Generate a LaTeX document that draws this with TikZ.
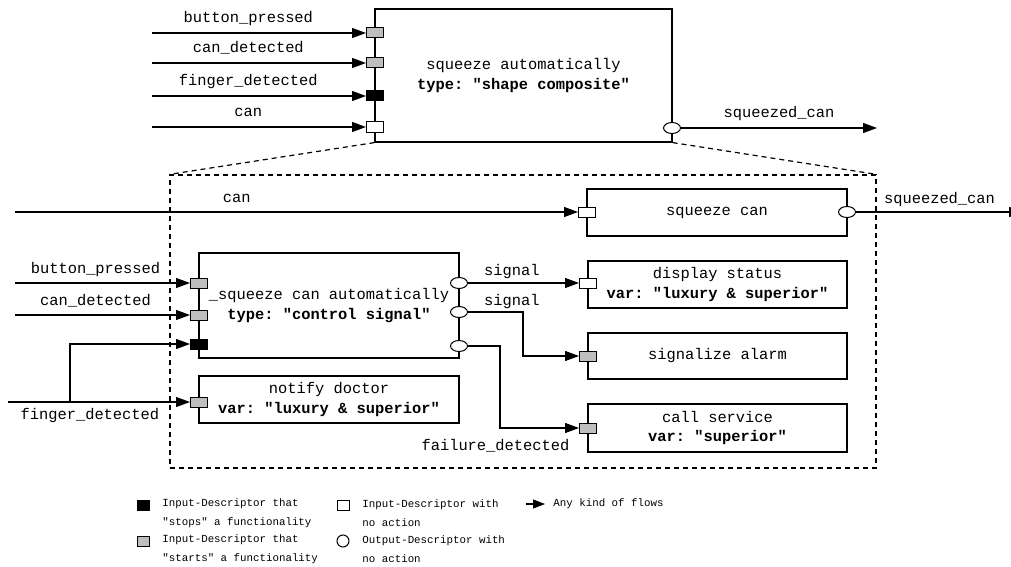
\documentclass[tikz,border=0pt]{standalone}
\usepackage{fontspec}
\setmonofont{Liberation Mono}
\usepackage{tikz}
\usetikzlibrary{arrows.meta,positioning,shapes.geometric}
\definecolor{portgrey}{HTML}{BEBEBE}
\tikzset{func/.style={draw,line width=0.6pt,align=center,
  font=\ttfamily\fontsize{7.7}{9.8}\selectfont,inner sep=0pt},
  port/.style={draw,line width=0.5pt,minimum width=8.5pt,minimum height=5pt,inner sep=0pt},
  startport/.style={port,fill=portgrey},
  stopport/.style={port,fill=black},
  noport/.style={port,fill=white},
  outport/.style={ellipse,draw,line width=0.5pt,fill=white,
  minimum width=8.5pt,minimum height=5.5pt,inner sep=0pt},
  flow/.style={-{Triangle[length=7pt,width=5pt]},line width=0.6pt},
  lbl/.style={font=\ttfamily\fontsize{7.7}{9.8}\selectfont,inner sep=0pt,anchor=base},
  zoomline/.style={dash pattern=on 2.5pt off 2pt,line width=0.6pt},
  legend/.style={font=\ttfamily\fontsize{5.4}{9.3}\selectfont,align=left,anchor=west,inner sep=0pt}}

\begin{document}
\begin{tikzpicture}[x=0.5pt,y=-0.5pt]
\useasboundingbox (0,0) rectangle (1011,567);
% composite function
\node[func,minimum width=148.5pt,minimum height=66.5pt] (top) at (523.5,75.5)
{squeeze automatically\\\textbf{type: "shape composite"}};
\node[startport] (top-bp) at (375,33) {};
\node[startport] (top-cd) at (375,63) {};
\node[stopport] (top-fd) at (375,96) {};
\node[noport] (top-can) at (375,127) {};
\node[outport] (top-out) at (672,128) {};
\coordinate (top-bp-src) at (152,33);
\coordinate (top-cd-src) at (152,63);
\coordinate (top-fd-src) at (152,96);
\coordinate (top-can-src) at (152,127);
\coordinate (top-out-dst) at (877,128);
\draw[flow] (top-bp-src) -- node[lbl,pos=0.45,yshift=5pt]{button\_pressed} (top-bp);
\draw[flow] (top-cd-src) -- node[lbl,pos=0.45,yshift=5pt]{can\_detected} (top-cd);
\draw[flow] (top-fd-src) -- node[lbl,pos=0.45,yshift=5pt]{finger\_detected} (top-fd);
\draw[flow] (top-can-src) -- node[lbl,pos=0.45,yshift=5pt]{can} (top-can);
\draw[flow] (top-out) -- node[lbl,pos=0.5,yshift=5pt]{squeezed\_can} (top-out-dst);

% refinement
\node[draw,zoomline,minimum width=353pt,minimum height=146.5pt,inner sep=0pt] (zoom) at (523,321.5) {};
\draw[zoomline] (top.south west) -- (zoom.north west);
\draw[zoomline] (top.south east) -- (zoom.north east);

\node[func,minimum width=130pt,minimum height=23.5pt] (sqcan) at (717,212.5) {squeeze can};
\node[func,minimum width=130pt,minimum height=52.5pt] (sqauto) at (329,305.5)
{\_squeeze can automatically\\\textbf{type: "control signal"}};
\node[func,minimum width=130pt,minimum height=23.5pt] (notify) at (329,399.5)
{notify doctor\\\textbf{var: "luxury \& superior"}};
\node[func,minimum width=129.5pt,minimum height=23.5pt] (display) at (717.5,284.5)
{display status\\\textbf{var: "luxury \& superior"}};
\node[func,minimum width=129.5pt,minimum height=23pt] (alarm) at (717.5,356) {signalize alarm};
\node[func,minimum width=129.5pt,minimum height=24pt] (service) at (717.5,428)
{call service\\\textbf{var: "superior"}};

\node[noport] (sqcan-in) at (587,212) {};
\node[outport] (sqcan-out) at (847,212) {};
\node[startport] (au-bp) at (199,283) {};
\node[startport] (au-cd) at (199,315) {};
\node[stopport] (au-fd) at (199,344) {};
\node[outport] (au-o1) at (459,283) {};
\node[outport] (au-o2) at (459,312) {};
\node[outport] (au-o3) at (459,346) {};
\node[startport] (nd-in) at (199,402) {};
\node[noport] (ds-in) at (588,283) {};
\node[startport] (sa-in) at (588,356) {};
\node[startport] (cs-in) at (588,428) {};

\coordinate (can-src) at (15,212);
\coordinate (sqc-dst) at (1023,212);
\coordinate (bp-src) at (15,283);
\coordinate (cd-src) at (15,315);
\coordinate (fd-src) at (8,402);
\coordinate (fd-split) at (70,402);
\draw[flow] (can-src) -- node[lbl,pos=0.394,yshift=5pt]{can} (sqcan-in);
\draw[flow] (sqcan-out) -- node[lbl,pos=0.5,yshift=4.5pt]{squeezed\_can} (sqc-dst);
\draw[flow] (bp-src) -- node[lbl,pos=0.46,yshift=5pt]{button\_pressed} (au-bp);
\draw[flow] (cd-src) -- node[lbl,pos=0.46,yshift=5pt]{can\_detected} (au-cd);
\draw[flow] (fd-src) -- node[lbl,pos=0.45,yshift=-8.5pt]{finger\_detected} (nd-in);
\draw[flow] (fd-split) |- (au-fd);
\draw[flow] (au-o1) -- node[lbl,pos=0,anchor=base west,xshift=7.75pt,yshift=4pt]{signal} (ds-in);
\draw[flow] (au-o2) -- node[lbl,pos=0,anchor=base west,xshift=7.75pt,yshift=3.5pt]{signal} ++(64,0) |- (sa-in);
\draw[flow] (au-o3) -- ++(41,0) |- node[lbl,pos=1,anchor=base east,xshift=-4.5pt,yshift=-11pt]{failure\_detected} (cs-in);

% legend
\node[stopport,minimum width=6pt,minimum height=5pt] (lg-stop) at (143,505) {};
\node[startport,minimum width=6pt,minimum height=5pt] (lg-start) at (143,541) {};
\node[noport,minimum width=6pt,minimum height=5pt] (lg-none) at (343,505) {};
\node[circle,draw,line width=0.5pt,minimum size=6pt,inner sep=0pt] (lg-out) at (343,541) {};
\coordinate (lg-arr-a) at (526,504);
\coordinate (lg-arr-b) at (545,504);
\draw[-{Triangle[length=6pt,width=4.5pt]},line width=0.6pt] (lg-arr-a) -- (lg-arr-b);
\node[legend] (lg-stop-txt) at (162,513) {Input-Descriptor that\\"stops" a functionality};
\node[legend] (lg-start-txt) at (162,549) {Input-Descriptor that\\"starts" a functionality};
\node[legend] (lg-none-txt) at (362,513) {Input-Descriptor with\\no action};
\node[legend] (lg-out-txt) at (362,549) {Output-Descriptor with\\no action};
\node[legend] (lg-flow-txt) at (553,504) {Any kind of flows};
\end{tikzpicture}
\end{document}
